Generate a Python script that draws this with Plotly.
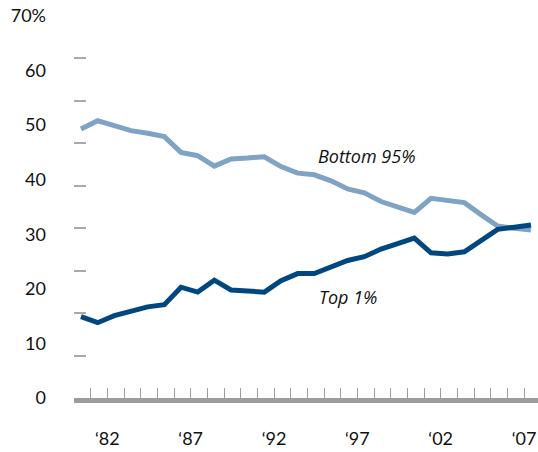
import plotly.graph_objects as go

years = list(range(1980, 2008))
bottom_95 = [49.3, 50.8, 49.9, 49.0, 48.5, 47.9, 45.0, 44.4, 42.5, 43.8,
             44.0, 44.2, 42.4, 41.2, 40.9, 39.8, 38.3, 37.6, 36.0, 34.9,
             34.0, 36.6, 36.3, 35.8, 33.6, 31.5, 31.1, 30.8]
top_1 = [14.9, 13.8, 15.1, 16.0, 16.7, 17.1, 20.3, 19.4, 21.6, 19.8,
         19.6, 19.4, 21.5, 22.8, 22.8, 23.9, 25.2, 25.9, 27.3, 28.3,
         29.3, 26.6, 26.4, 26.8, 28.9, 30.9, 31.3, 31.7]

y_ticks = [0, 10, 20, 30, 40, 50, 60, 70]
y_labels = ["0", "10", "20", "30", "40", "50", "60", "70%"]
x_labels = {1982: "‘82", 1987: "‘87", 1992: "‘92", 1997: "‘97", 2002: "‘02", 2007: "‘07"}

LIGHT = "#7FA3C4"
DARK = "#00477F"
GRAY = "#9B9C9F"
FONT = "Lato"

fig = go.Figure()
fig.add_trace(go.Scatter(x=years, y=bottom_95, mode="lines", name="Bottom 95%",
                         line=dict(color=LIGHT, width=5)))
fig.add_trace(go.Scatter(x=years, y=top_1, mode="lines", name="Top 1%",
                         line=dict(color=DARK, width=5)))
# invisible trace carrying the short gray dashes on the left
fig.add_trace(go.Scatter(x=[years[0]], y=[0], yaxis="y2", mode="markers",
                         marker=dict(opacity=0), showlegend=False, hoverinfo="skip"))

fig.add_annotation(x=1994.1, y=44.4, text="<i>Bottom 95%</i>", showarrow=False,
                   xanchor="left", yanchor="middle",
                   font=dict(family="Open Sans", size=18, color="#111"))
fig.add_annotation(x=1994.15, y=18.5, text="<i>Top 1%</i>", showarrow=False,
                   xanchor="left", yanchor="middle",
                   font=dict(family="Open Sans", size=18, color="#111"))

fig.update_layout(
    width=538, height=452,
    margin=dict(l=74, r=0, t=16, b=54),
    paper_bgcolor="white", plot_bgcolor="white",
    showlegend=False,
    font=dict(family=FONT, size=18, color="#111"),
    xaxis=dict(range=[1979.58, 2007.42],
               tickvals=[y - 0.42 for y in years],
               ticktext=[x_labels.get(y, "") for y in years],
               ticks="inside", ticklen=10, tickwidth=1, tickcolor=GRAY,
               showline=True, linewidth=5, linecolor=GRAY,
               showgrid=False, zeroline=False, ticklabelstandoff=20,
               tickfont=dict(size=18)),
    yaxis=dict(range=[0, 70], tickvals=y_ticks, ticktext=y_labels,
               showgrid=False, zeroline=False, showline=False, ticks="",
               ticklabelstandoff=27, tickfont=dict(size=18)),
    yaxis2=dict(range=[0, 70], overlaying="y", side="left",
                tickvals=[70 * k / 9 for k in range(1, 10)],
                showticklabels=False, ticks="inside", ticklen=12, tickwidth=1.5,
                tickcolor="#A8A9AB", showgrid=False, zeroline=False, showline=False),
)

fig.write_html("out.html", config={"displayModeBar": False},
               post_script="document.body.style.margin='0';")
